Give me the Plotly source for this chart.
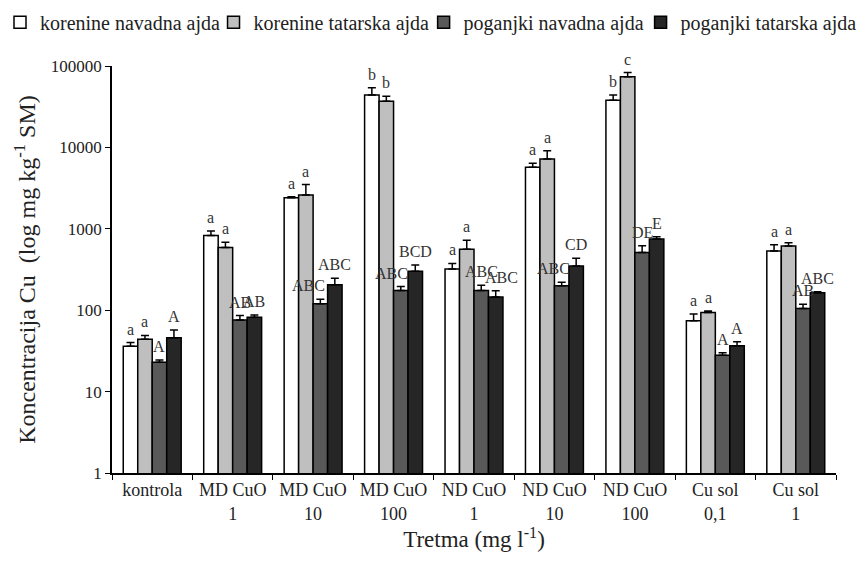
import math
import plotly.graph_objects as go

# Treatments (x-axis categories, two-line tick labels)
categories = ["kontrola", "MD CuO<br>1", "MD CuO<br>10", "MD CuO<br>100",
              "ND CuO<br>1", "ND CuO<br>10", "ND CuO<br>100",
              "Cu sol<br>0,1", "Cu sol<br>1"]

series_names = ["korenine navadna ajda", "korenine tatarska ajda",
                "poganjki navadna ajda", "poganjki tatarska ajda"]

# Cu concentration (mg/kg DM) per series
korenine_navadna = [36, 830, 2400, 44000, 320, 5700, 38000, 74, 535]
korenine_tatarska = [44, 590, 2600, 37000, 560, 7200, 74000, 94, 615]
poganjki_navadna = [23, 76, 120, 175, 175, 200, 510, 28, 105]
poganjki_tatarska = [46, 82, 205, 300, 145, 350, 750, 36.5, 164]

# Standard errors (upper whisker only)
err_korenine_navadna = [4, 110, 80, 10000, 55, 700, 6000, 16, 100]
err_korenine_tatarska = [5, 95, 900, 5500, 165, 1900, 9000, 4, 60]
err_poganjki_navadna = [1.5, 10, 16, 20, 28, 20, 110, 2, 13]
err_poganjki_tatarska = [11, 5, 42, 60, 28, 85, 50, 4.5, 5]

# Significance letters
letters_korenine_navadna = ["a", "a", "a", "b", "a", "a", "b", "a", "a"]
letters_korenine_tatarska = ["a", "a", "a", "b", "a", "a", "c", "a", "a"]
letters_poganjki_navadna = ["A", "AB", "ABC", "ABC", "ABC", "ABC", "DE", "A", "AB"]
letters_poganjki_tatarska = ["A", "AB", "ABC", "BCD", "ABC", "CD", "E", "A", "ABC"]

values = [korenine_navadna, korenine_tatarska, poganjki_navadna, poganjki_tatarska]
errors = [err_korenine_navadna, err_korenine_tatarska,
          err_poganjki_navadna, err_poganjki_tatarska]
letters = [letters_korenine_navadna, letters_korenine_tatarska,
           letters_poganjki_navadna, letters_poganjki_tatarska]

y_tick_values = [1, 10, 100, 1000, 10000, 100000]
y_tick_labels = ["1", "10", "100", "1000", "10000", "100000"]

colors = ["#ffffff", "#bfbfbf", "#595959", "#262626"]
FONT = "Liberation Serif"
BARGAP = 0.28

# one single-entry legend per series, laid out in a row across the top
legend_ids = ["legend", "legend2", "legend3", "legend4"]
legend_x = [0.0, 0.248, 0.492, 0.744]

# pixel nudges for crowded letter labels: (series, category) -> xshift
label_nudge = {(2, 2): -12, (2, 3): -9, (3, 4): 6, (2, 5): -8}

fig = go.Figure()
for name, vals, errs, col, lg in zip(series_names, values, errors, colors, legend_ids):
    fig.add_trace(go.Bar(
        name=name, x=categories, y=vals, legend=lg,
        marker=dict(color=col, line=dict(color="black", width=1.5)),
        error_y=dict(type="data", array=errs, arrayminus=[0] * len(errs),
                     symmetric=False, color="black", thickness=1.5, width=4),
    ))

# letters above each error bar, centred on its bar
n_series = len(values)
bar_w = (1 - BARGAP) / n_series
for j, (vals, errs, labs) in enumerate(zip(values, errors, letters)):
    offset = (j - (n_series - 1) / 2) * bar_w
    for i, (v, e, lab) in enumerate(zip(vals, errs, labs)):
        fig.add_annotation(
            x=i + offset, y=math.log10(v + e), text=lab, showarrow=False,
            xanchor="center", yanchor="bottom", yshift=3,
            xshift=label_nudge.get((j, i), 0),
            font=dict(family=FONT, size=16, color="#333333"),
        )

legend_style = dict(orientation="h", xref="container", yref="container",
                    y=0.995, xanchor="left", yanchor="top",
                    font=dict(family=FONT, size=20, color="#222222"),
                    itemclick=False, bgcolor="rgba(0,0,0,0)")

fig.update_layout(
    width=861, height=562,
    margin=dict(l=112, r=25, t=66, b=89),
    paper_bgcolor="white", plot_bgcolor="white",
    barmode="group", bargap=BARGAP, bargroupgap=0,
    font=dict(family=FONT, size=17, color="#222222"),
    showlegend=True,
    **{lg: dict(legend_style, x=lx) for lg, lx in zip(legend_ids, legend_x)},
)
fig.update_xaxes(
    type="category", showline=True, linecolor="black", linewidth=1.5,
    ticks="outside", tickson="boundaries", ticklen=5, tickcolor="black",
    tickfont=dict(family=FONT, size=18, color="#222222"),
    showgrid=False, zeroline=False,
    title=dict(text="Tretma (mg l<sup>-1</sup>)", standoff=6,
               font=dict(family=FONT, size=23, color="#222222")),
)
fig.update_yaxes(
    type="log", range=[0, 5], showline=True, linecolor="black", linewidth=1.5,
    ticks="outside", ticklen=5, tickcolor="black",
    tickvals=y_tick_values, ticktext=y_tick_labels,
    tickfont=dict(family=FONT, size=17, color="#222222"),
    showgrid=False, zeroline=False,
    title=dict(text="Koncentracija Cu  (log mg kg<sup>-1</sup> SM)", standoff=8,
               font=dict(family=FONT, size=24, color="#222222")),
)

fig.write_html("out.html")
